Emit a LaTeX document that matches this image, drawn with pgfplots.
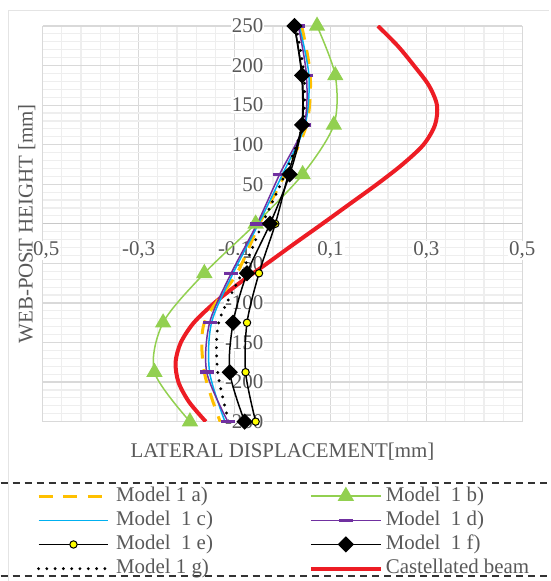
\documentclass[border=0pt]{standalone}
\usepackage{pgfplots}
\pgfplotsset{compat=1.18}
\usepackage{fontspec}
\setmainfont{Liberation Serif}
\definecolor{txtgray}{HTML}{595959}
\definecolor{gridmaj}{HTML}{D9D9D9}
\definecolor{gridmin}{HTML}{EEEEEE}
\definecolor{axgray}{HTML}{C8C8C8}
\definecolor{cOrange}{HTML}{FFC000}
\definecolor{cGreen}{HTML}{92D050}
\definecolor{cBlue}{HTML}{00B0F0}
\definecolor{cPurple}{HTML}{7030A0}
\definecolor{cRed}{HTML}{ED1C24}
\definecolor{cYellow}{HTML}{FFFF00}
\pgfplotsset{
  layers/mylayers/.define layer set={axis background,axis grid,axis ticks,axis lines,axis tick labels,main,axis descriptions,axis foreground}{/pgfplots/layers/standard},
}
\begin{document}
\fontsize{21}{25}\selectfont
\begin{tikzpicture}
\draw[gridmaj!70, line width=1bp] (-34bp,-159bp) -- (-34bp,411bp) -- (507bp,411bp);
\begin{axis}[
  set layers=mylayers,
  at={(0,0)}, anchor=south west,
  scale only axis, width=480bp, height=396bp,
  xmin=-0.5, xmax=0.5, ymin=-250, ymax=250,
  enlargelimits=false,
  axis lines=middle,
  axis line style={draw=axgray, line width=1.2bp, -},
  every inner x axis line/.append style={-},
  every inner y axis line/.append style={-},
  xtick={-0.5,-0.3,-0.1,0.1,0.3,0.5},
  ytick={-250,-200,...,250},
  minor x tick num=4, minor y tick num=4,
  grid=both,
  major grid style={draw=gridmaj, line width=1.2bp},
  minor grid style={draw=gridmin, line width=1.2bp},
  major tick length=0pt, minor tick length=0pt,
  tick label style={font=\fontsize{21}{25}\selectfont, text=txtgray, fill=white, inner sep=1bp,
    /pgf/number format/assume math mode=true},
  xticklabel style={anchor=north, yshift=-17bp,
    /pgf/number format/fixed, /pgf/number format/precision=1, /pgf/number format/use comma},
  yticklabel style={anchor=east, xshift=-18bp},
  xlabel={LATERAL DISPLACEMENT[mm]},
  ylabel={WEB-POST HEIGHT [mm]},
  xlabel style={at={(axis description cs:0.5,-0.0758)}, anchor=center, font=\fontsize{21}{25}\selectfont, text=txtgray},
  ylabel style={at={(axis description cs:-0.0333,0.5)}, anchor=center, rotate=90, font=\fontsize{21}{25}\selectfont, text=txtgray},
  legend columns=2,
  legend cell align=left,
  legend style={at={(axis description cs:-0.0125,-0.1625)}, anchor=north west,
    draw=none, fill=none, inner sep=0pt,
    font=\fontsize{21}{25}\selectfont, text=txtgray,
    nodes={inner sep=0pt, text height=15bp, text depth=5bp},
    row sep=4.2bp,
    /tikz/column 1/.append style={column sep=6bp},
    /tikz/column 2/.append style={column sep=96bp},
    /tikz/column 3/.append style={column sep=3bp}},
  legend image code/.code={\draw[mark repeat=2,mark phase=2,#1] plot coordinates {(0bp,0bp) (35bp,0bp) (70bp,0bp)};},
]
% Castellated beam (drawn first, underneath)
\addplot[cRed, line width=4bp, smooth, forget plot] coordinates {
(0.199,250) (0.240,225) (0.274,200) (0.305,175) (0.322,150) (0.318,125) (0.294,100)
(0.250,75) (0.197,50) (0.140,25) (0.083,0) (0.025,-25) (-0.032,-50) (-0.090,-75)
(-0.142,-100) (-0.185,-125) (-0.212,-150) (-0.223,-175) (-0.217,-200) (-0.195,-225) (-0.160,-250)};
% Model 1 a
\addplot[cOrange, line width=3bp, dash pattern=on 14bp off 10.7bp, smooth] coordinates {
(0.040,250) (0.058,187.5) (0.050,125) (0.005,62.5) (-0.048,0) (-0.095,-62.5) (-0.163,-125) (-0.163,-187.5) (-0.130,-250)};
\addlegendentry{Model 1 a)}
% Model 1 b
\addplot[cGreen, line width=1.5bp, smooth, mark=triangle*, mark size=8bp, mark options={solid, fill=cGreen, draw=cGreen}] coordinates {
(0.072,250) (0.110,187.5) (0.107,125) (0.042,62.5) (-0.056,0) (-0.163,-62.5) (-0.249,-125) (-0.267,-187.5) (-0.193,-250)};
\addlegendentry{Model\ \ 1 b)}
% Model 1 c
\addplot[cBlue, line width=1.5bp, smooth] coordinates {
(0.035,250) (0.055,187.5) (0.047,125) (0.000,62.5) (-0.050,0) (-0.103,-62.5) (-0.148,-125) (-0.152,-187.5) (-0.120,-250)};
\addlegendentry{Model\ \ 1 c)}
% Model 1 d
\addplot[cPurple, line width=1.5bp, smooth, mark=-, mark size=7bp, mark options={line width=3.5bp}] coordinates {
(0.033,250) (0.050,187.5) (0.045,125) (-0.006,62.5) (-0.053,0) (-0.107,-62.5) (-0.152,-125) (-0.158,-187.5) (-0.114,-250)};
\addlegendentry{Model\ \ 1 d)}
% Model 1 e
\addplot[black, line width=1.5bp, smooth, mark=*, mark size=3.7bp, mark options={fill=cYellow, draw=black, line width=1bp}] coordinates {
(0.025,250) (0.040,187.5) (0.040,125) (0.012,62.5) (-0.015,0) (-0.049,-62.5) (-0.074,-125) (-0.077,-187.5) (-0.056,-250)};
\addlegendentry{Model\ \ 1 e)}
% Model 1 f
\addplot[black, line width=1.5bp, smooth, mark=square*, mark size=5bp, mark options={rotate=45, fill=black}] coordinates {
(0.025,250) (0.041,187.5) (0.041,125) (0.015,62.5) (-0.026,0) (-0.074,-62.5) (-0.103,-125) (-0.110,-187.5) (-0.079,-250)};
\addlegendentry{Model\ \ 1 f)}
% Model 1 g
\addplot[black, line width=3.2bp, line cap=round, dash pattern=on 0bp off 8.3bp, smooth] coordinates {
(0.028,250) (0.045,187.5) (0.042,125) (0.005,62.5) (-0.042,0) (-0.085,-62.5) (-0.133,-125) (-0.135,-187.5) (-0.112,-250)};
\addlegendentry{Model 1 g)}
\addlegendimage{cRed, line width=4bp}
\addlegendentry{Castellated beam}
\end{axis}
\draw[black!80, line width=1.5bp, dash pattern=on 7bp off 5bp] (-42bp,-61.3bp) -- (507bp,-61.3bp);
\draw[black!80, line width=1.5bp, dash pattern=on 7bp off 5bp] (-42bp,-154.7bp) -- (507bp,-154.7bp);
\path (-42bp,-159bp) rectangle (507bp,422bp);
\end{tikzpicture}
\end{document}
